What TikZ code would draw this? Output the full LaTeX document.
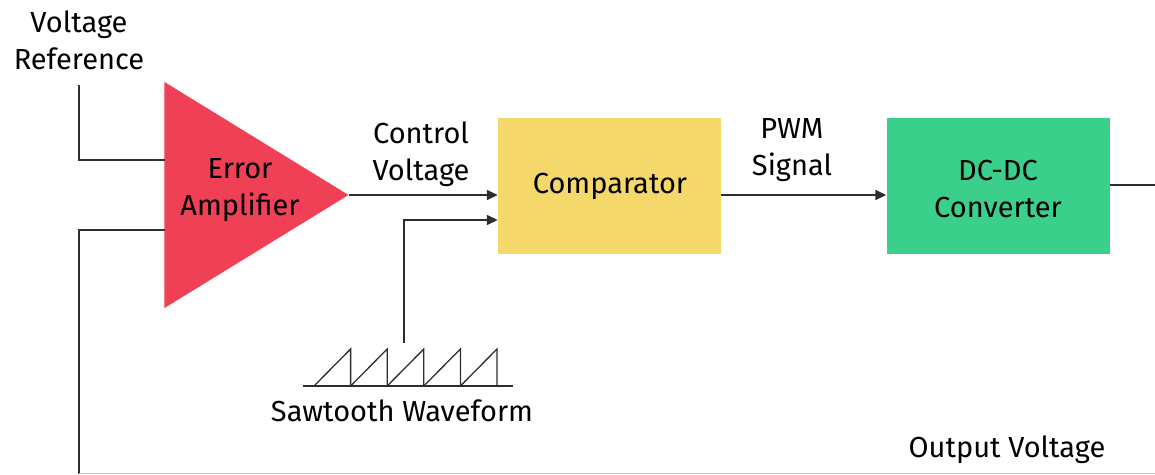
\documentclass[tikz,border=0pt]{standalone}
\usepackage{fontspec}
\setmainfont{Fira Sans}
\usepackage{tikz}
\usetikzlibrary{positioning,arrows.meta,shapes.geometric}
\definecolor{ampred}{RGB}{239,64,86}
\definecolor{compyellow}{RGB}{245,216,106}
\definecolor{dcgreen}{RGB}{58,208,140}
\definecolor{linegray}{RGB}{45,45,45}
\begin{document}
\begin{tikzpicture}[x=1pt,y=-1pt,
	every node/.style={font=\fontsize{29}{37}\selectfont},
	txt/.style={align=center,inner sep=0pt},
	line/.style={draw=linegray,line width=1.5pt},
	arrow/.style={line,-{Triangle[length=11pt,width=10pt]}},
	block/.style={minimum width=223pt,minimum height=136pt,inner sep=0pt}]
	
	\useasboundingbox (0,0) rectangle (1155,474);
	
	% blocks
	\node[isosceles triangle,isosceles triangle stretches,shape border rotate=0,
	      minimum width=226pt,minimum height=184pt,inner sep=0pt,fill=ampred,anchor=apex] (amp) at (349,195) {};
	\node[txt] (amptxt) at (240,190) {Error\\Amplifier};
	\node[block,fill=compyellow] (comp) at (609.5,185.5) {};
	\node[block,fill=dcgreen] (dcdc) at (998,186) {};
	\node[txt] (comptxt) at (610,186) {Comparator};
	\node[txt] (dctxt) at (998,189) {DC-DC\\Converter};
	
	% labels
	\node[txt] (vref) at (79,40) {Voltage\\Reference};
	\node[txt] (ctrl) at (421,154) {Control\\Voltage};
	\node[txt] (pwm) at (792,150) {PWM\\Signal};
	\node[txt] (saw) at (402,411) {Sawtooth Waveform};
	\node[txt] (vout) at (1007,450) {Output Voltage};
	
	% free ends
	\coordinate (refstart) at (79,85);
	\coordinate (refin) at (165,160);
	\coordinate (fbin) at (165,230);
	\coordinate (fbend) at (79,474);
	\coordinate (sawin) at (404,343);
	\coordinate (outend) at (1155,185);
	
	% connectors
	\draw[line] (refstart) |- (refin);
	\draw[line] (fbin) -| (fbend);
	\draw[draw=linegray!25,line width=1pt] (79,473.5) -- (1155,473.5);
	\draw[arrow] (amp.apex) -- (amp.apex -| comp.west);
	\draw[arrow] (sawin) |- ([yshift=-34.5pt]comp.west);
	\draw[arrow] (comp.east |- amp.apex) -- (dcdc.west |- amp.apex);
	\draw[line] (dcdc.east |- outend) -- (outend);
	
	% sawtooth
	\draw[line,line width=1.3pt] (303,386) -- (513,386);
	\foreach \i in {0,...,4}
		\draw[line,line width=1.3pt] ({314+36.6*\i},386) -- ({350.6+36.6*\i},349) -- ({350.6+36.6*\i},386);
	
\end{tikzpicture}
\end{document}
